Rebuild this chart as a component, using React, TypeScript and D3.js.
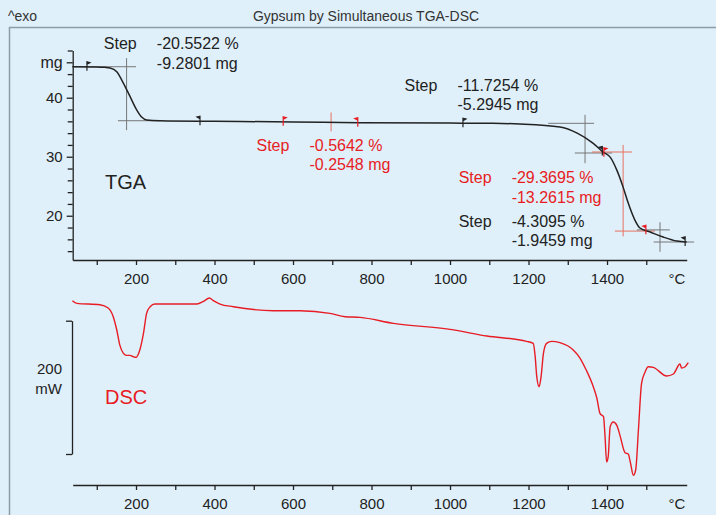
import React, { useEffect, useRef } from 'react'
import * as d3 from 'd3'

// TGA mass curve: [temperature °C, mass mg]
const tgaCurve: [number, number][] = [
  [38, 45.25], [100, 45.22], [120, 45.15], [134, 45.05], [151, 44.4], [168, 42.44],
  [185, 40.17], [202, 37.9], [215, 36.68], [227, 36.22], [261, 36.1], [400, 36.0],
  [600, 35.9], [770, 35.76], [1000, 35.7], [1109, 35.66], [1178, 35.54], [1280, 35.03],
  [1324, 34.0], [1364, 32.31], [1390, 30.78], [1408, 29.93], [1425, 27.73], [1441, 24.85],
  [1454, 22.15], [1471, 19.27], [1484, 17.92], [1510, 17.24], [1543, 16.39], [1578, 15.71],
  [1603, 15.54]
]

// DSC heat flow: [temperature °C, mW]
const dscCurve: [number, number][] = [
  [38, 30], [49, 26], [108, 24], [129, 19], [142, 6], [151, -14], [159, -37], [168, -49],
  [176, -52], [185, -52], [193, -54], [200, -55], [208, -47], [219, -19], [227, 11],
  [236, 21], [248, 25], [355, 25], [372, 29], [387, 34], [397, 30], [414, 25], [448, 21],
  [550, 15], [618, 15], [694, 11], [733, 6], [771, 5], [856, -4], [1000, -13], [1094, -23],
  [1195, -31], [1212, -34], [1217, -54], [1221, -84], [1227, -99], [1232, -84], [1238, -49],
  [1246, -34], [1259, -31], [1280, -33], [1314, -44], [1331, -56], [1347, -74], [1365, -99],
  [1374, -116], [1382, -139], [1391, -144], [1395, -174], [1399, -212], [1403, -204],
  [1408, -159], [1416, -152], [1425, -157], [1433, -172], [1446, -198], [1454, -200],
  [1460, -214], [1467, -232], [1473, -224], [1480, -164], [1488, -94], [1497, -77],
  [1505, -69], [1518, -70], [1552, -83], [1569, -80], [1586, -65], [1590, -71], [1599, -69],
  [1607, -63]
]

const tempTicks = [200, 400, 600, 800, 1000, 1200, 1400]
const tempMinorTicks = [100, 300, 500, 700, 900, 1100, 1300, 1500]
const massTicks = [20, 30, 40]
const massMinorTicks = [14, 16, 18, 22, 24, 26, 28, 32, 34, 36, 38, 42, 44, 48]
const massUnitTick = 46

// step evaluations (all in data units: °C and mg)
const steps = [
  { pct: '-20.5522 %', mg: '-9.2801 mg', red: false, textT: 253, textM: 48.2,
    midT: 176, top: 46.7, bottom: 34.5, upper: 45.25, uFrom: 38, uTo: 200, lower: 36.1, lFrom: 154, lTo: 261 },
  { pct: '-0.5642 %', mg: '-0.2548 mg', red: true, textT: 642, textM: 31.0,
    midT: 697, top: 37.5, bottom: 34.3, upper: 35.8, uFrom: 672, uTo: 718, lower: 35.8, lFrom: 672, lTo: 718 },
  { pct: '-11.7254 %', mg: '-5.2945 mg', red: false, textT: 1019, textM: 41.2,
    midT: 1344, top: 37.1, bottom: 28.9, upper: 35.66, uFrom: 1250, uTo: 1367, lower: 30.63, lFrom: 1318, lTo: 1413 },
  { pct: '-29.3695 %', mg: '-13.2615 mg', red: true, textT: 1157, textM: 25.5,
    midT: 1441, top: 32.0, bottom: 16.5, upper: 30.8, uFrom: 1362, uTo: 1464, lower: 17.4, lFrom: 1420, lTo: 1522 },
  { pct: '-4.3095 %', mg: '-1.9459 mg', red: false, textT: 1157, textM: 18.15,
    midT: 1535, top: 18.9, bottom: 13.9, upper: 17.6, uFrom: 1476, uTo: 1560, lower: 15.55, lFrom: 1519, lTo: 1622 }
]

// limit markers on the TGA curve
const markers = [
  { t: 75, red: false, left: false }, { t: 363, red: false, left: true },
  { t: 575, red: true, left: false }, { t: 765, red: true, left: true },
  { t: 1033, red: false, left: false }, { t: 1388, red: false, left: true },
  { t: 1392, red: true, left: false }, { t: 1499, red: true, left: true },
  { t: 1599, red: false, left: true }
]

const RED = '#e81c24'
const INK = '#222'
const FONT = '"Liberation Sans", Arial, Helvetica, sans-serif'

export default function App () {
  const ref = useRef<SVGSVGElement>(null)

  useEffect(() => {
    const svg = d3.select(ref.current)
    svg.selectAll('*').remove()
    svg.style('font-family', FONT)

    const x = d3.scaleLinear().domain([38.7, 1603]).range([72.7, 686.7])
    const yMass = d3.scaleLinear().domain([12.5, 48]).range([260, 50.5])
    const yDsc = d3.scaleLinear().domain([-200, 0]).range([454, 320.7])
    const massAt = d3.scaleLinear().domain(tgaCurve.map(d => d[0])).range(tgaCurve.map(d => d[1]))

    svg.append('rect').attr('width', 716).attr('height', 515).attr('fill', '#dff0fa')

    // frame
    svg.append('path')
      .attr('d', 'M9.5,515 V27.5 H716')
      .attr('fill', 'none').attr('stroke', '#8e9ca6').attr('stroke-width', 1.5)

    svg.append('text').attr('x', 8).attr('y', 21).text('^exo')
      .style('font-size', '14px').attr('fill', '#333')
    svg.append('text').attr('x', 366).attr('y', 21).text('Gypsum by Simultaneous TGA-DSC')
      .style('font-size', '14px').attr('fill', '#333').attr('text-anchor', 'middle')

    const styleAxis = (g: any, size: number) => {
      g.selectAll('path, line').attr('stroke', INK).attr('stroke-width', 1.3)
      g.selectAll('text').style('font-size', `${size}px`).attr('fill', INK).style('font-family', FONT)
    }

    const drawTempAxis = (yPos: number) => {
      const gMinor = svg.append('g').attr('transform', `translate(0,${yPos})`)
        .call(d3.axisBottom(x).tickValues(tempMinorTicks).tickSize(5).tickSizeOuter(0).tickFormat(() => ''))
      styleAxis(gMinor, 15)
      const g = svg.append('g').attr('transform', `translate(0,${yPos})`)
        .call(d3.axisBottom(x).tickValues(tempTicks).tickSize(5).tickSizeOuter(0).tickPadding(8)
          .tickFormat(d3.format('d')))
      styleAxis(g, 15)
      g.select('.domain').remove()
      svg.append('text').attr('x', 677).attr('y', yPos + 24).attr('text-anchor', 'middle')
        .text('°C').style('font-size', '15px').attr('fill', INK)
    }

    // ---- TGA ----
    const gm = svg.append('g').attr('transform', 'translate(72.7,0)')
      .call(d3.axisLeft(yMass).tickValues(massMinorTicks).tickSize(5).tickSizeOuter(0).tickFormat(() => ''))
    styleAxis(gm, 15)
    const gM = svg.append('g').attr('transform', 'translate(72.7,0)')
      .call(d3.axisLeft(yMass).tickValues([...massTicks, massUnitTick]).tickSize(6).tickSizeOuter(0).tickPadding(4)
        .tickFormat((d: any) => d === massUnitTick ? 'mg' : String(d)))
    styleAxis(gM, 15)
    gM.select('.domain').remove()
    gM.selectAll('text').filter((d: any) => d === massUnitTick).style('font-size', '16px')

    drawTempAxis(260)

    svg.append('text').attr('x', 105).attr('y', 189).text('TGA')
      .style('font-size', '20px').attr('fill', INK)

    // step evaluation guides
    steps.forEach(s => {
      const c = s.red ? '#e8705f' : '#777'
      const g = svg.append('g').attr('stroke', c).attr('stroke-width', 1)
      g.append('line').attr('x1', x(s.midT)).attr('x2', x(s.midT)).attr('y1', yMass(s.top)).attr('y2', yMass(s.bottom))
      g.append('line').attr('x1', x(s.uFrom)).attr('x2', x(s.uTo)).attr('y1', yMass(s.upper)).attr('y2', yMass(s.upper))
      g.append('line').attr('x1', x(s.lFrom)).attr('x2', x(s.lTo)).attr('y1', yMass(s.lower)).attr('y2', yMass(s.lower))
    })

    const tgaLine = d3.line<[number, number]>()
      .x(d => x(d[0])).y(d => yMass(d[1])).curve(d3.curveMonotoneX)
    svg.append('path').datum(tgaCurve).attr('d', tgaLine)
      .attr('fill', 'none').attr('stroke', INK).attr('stroke-width', 1.5)

    markers.forEach(m => {
      const px = x(m.t)
      const py = yMass(massAt(m.t))
      const s = m.left ? -1 : 1
      svg.append('path')
        .attr('d', `M${px},${py + 4} V${py - 5} L${px + 3 * s},${py - 4.2} L${px},${py - 2.5} Z`)
        .attr('fill', m.red ? RED : INK).attr('stroke', m.red ? RED : INK).attr('stroke-width', 1.2)
    })

    steps.forEach(s => {
      const fill = s.red ? RED : INK
      const tx = x(s.textT)
      const ty = yMass(s.textM)
      const g = svg.append('g').attr('fill', fill).style('font-size', '16px')
      g.append('text').attr('x', tx - 53).attr('y', ty).text('Step')
      g.append('text').attr('x', tx).attr('y', ty).text(s.pct)
      g.append('text').attr('x', tx).attr('y', ty + 19.5).text(s.mg)
    })

    // ---- DSC ----
    const gd = svg.append('g').attr('transform', 'translate(72,0)')
      .call(d3.axisLeft(yDsc).tickValues([-200, 0]).tickSize(6).tickSizeOuter(0).tickFormat(() => ''))
    styleAxis(gd, 15)
    const mid = yDsc(-100)
    svg.append('text').attr('x', 62).attr('y', mid - 13).attr('text-anchor', 'end')
      .text('200').style('font-size', '15px').attr('fill', INK)
    svg.append('text').attr('x', 62).attr('y', mid + 7).attr('text-anchor', 'end')
      .text('mW').style('font-size', '15px').attr('fill', INK)

    drawTempAxis(485)

    svg.append('text').attr('x', 105).attr('y', 404).text('DSC')
      .style('font-size', '20px').attr('fill', RED)

    const dscLine = d3.line<[number, number]>()
      .x(d => x(d[0])).y(d => yDsc(d[1])).curve(d3.curveMonotoneX)
    svg.append('path').datum(dscCurve).attr('d', dscLine)
      .attr('fill', 'none').attr('stroke', RED).attr('stroke-width', 1.4)
  }, [])

  return (
    <svg ref={ref} width={716} height={515}
      style={{ position: 'fixed', left: 0, top: 0, display: 'block' }} />
  )
}
